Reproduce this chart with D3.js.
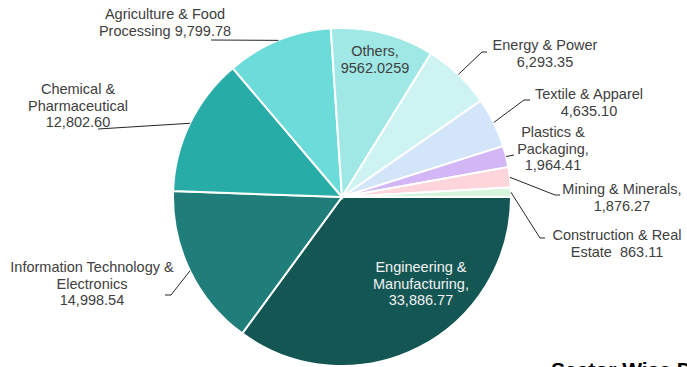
<!DOCTYPE html>
<html>
<head>
<meta charset="utf-8">
<script src="https://cdn.jsdelivr.net/npm/d3@7"></script>
<style>
  body { margin: 0; background: #fff; }
  text { font-family: "Liberation Sans", Arial, sans-serif; }
</style>
</head>
<body>
<div id="chart"></div>
<script>
var width = 687;
var height = 367;

// data
var sectors = ["Engineering & Manufacturing", "Information Technology & Electronics", "Chemical & Pharmaceutical",
               "Agriculture & Food Processing", "Others", "Energy & Power", "Textile & Apparel",
               "Plastics & Packaging", "Mining & Minerals", "Construction & Real Estate"];
var values = [33886.77, 14998.54, 12802.60, 9799.78, 9562.0259, 6293.35, 4635.10, 1964.41, 1876.27, 863.11];
var labelLines = [
    ["Engineering &", "Manufacturing,", "{v}"],
    ["Information Technology &", "Electronics", "{v}"],
    ["Chemical &", "Pharmaceutical", "{v}"],
    ["Agriculture & Food", "Processing {v}"],
    ["Others,", "{v}"],
    ["Energy & Power", "{v}"],
    ["Textile & Apparel", "{v}"],
    ["Plastics &", "Packaging,", "{v}"],
    ["Mining & Minerals,", "{v}"],
    ["Construction & Real", "Estate  {v}"]
];
var colors = ["#145653", "#1f7e7a", "#28aca8", "#6bdcd9", "#9fe8e5",
              "#cdf4f2", "#d3e5f8", "#d3b6f5", "#fdd5da", "#d5f5dc"];
var title = "Sector Wise Distribution";

// layout: label centre x, first baseline y, leader elbow points (null = inside label)
var labelLayout = [
    {x: 421, y: 272, leader: null, fill: "#f2f2f2"},
    {x: 92,  y: 272, leader: [[171, 295], [165, 295]]},
    {x: 78,  y: 94,  leader: [[98, 129]]},
    {x: 165, y: 19,  leader: [[211, 40]]},
    {x: 375, y: 56,  leader: null},
    {x: 545, y: 50,  leader: [[482, 52], [487, 52]]},
    {x: 589, y: 99,  leader: [[524, 100], [530, 100]]},
    {x: 553, y: 137, leader: [[514, 155]]},
    {x: 622, y: 194, leader: [[555, 195], [560, 195]]},
    {x: 617, y: 240, leader: [[540, 238], [545, 238]]}
];

var cx = 342, cy = 197, radius = 169;
var lineH = 16.7;

var data = values.map(function(v, i) { return {name: sectors[i], value: v, i: i}; });

var svg = d3.select("#chart")
    .append("svg")
    .attr("width", width)
    .attr("height", height);

var pie = d3.pie()
    .sort(null)
    .value(function(d) { return d.value; })
    .startAngle(Math.PI / 2)
    .endAngle(Math.PI / 2 + 2 * Math.PI);

var arc = d3.arc().innerRadius(0).outerRadius(radius);

var g = svg.append("g").attr("transform", "translate(" + cx + "," + cy + ")");

var arcs = pie(data);

g.selectAll("path.slice")
    .data(arcs)
    .enter()
    .append("path")
    .attr("class", "slice")
    .attr("d", arc)
    .attr("fill", function(d) { return colors[d.data.i]; })
    .attr("stroke", "#fff")
    .attr("stroke-width", 2);

var fmt = d3.format(",.2f");
function valueText(i) {
    if (sectors[i] === "Others") return String(values[i]);
    return fmt(values[i]);
}

// leader lines
arcs.forEach(function(d) {
    var lay = labelLayout[d.data.i];
    if (!lay.leader) return;
    var mid = (d.startAngle + d.endAngle) / 2;
    var pts = [[cx + radius * Math.sin(mid), cy - radius * Math.cos(mid)]].concat(lay.leader);
    svg.append("path")
        .attr("d", d3.line()(pts))
        .attr("fill", "none")
        .attr("stroke", "#262626")
        .attr("stroke-width", 1);
});

// labels
arcs.forEach(function(d) {
    var i = d.data.i;
    var lay = labelLayout[i];
    var t = svg.append("text")
        .attr("text-anchor", "middle")
        .style("font-size", "14.5px")
        .attr("fill", lay.fill || "#404040");
    labelLines[i].forEach(function(line, k) {
        t.append("tspan")
            .attr("x", lay.x)
            .attr("y", lay.y + k * lineH)
            .attr("xml:space", "preserve")
            .text(line.replace("{v}", valueText(i)));
    });
});

svg.append("text")
    .attr("x", 551)
    .attr("y", 377)
    .style("font-size", "21px")
    .style("font-weight", "bold")
    .attr("fill", "#000")
    .text(title);
</script>
</body>
</html>
